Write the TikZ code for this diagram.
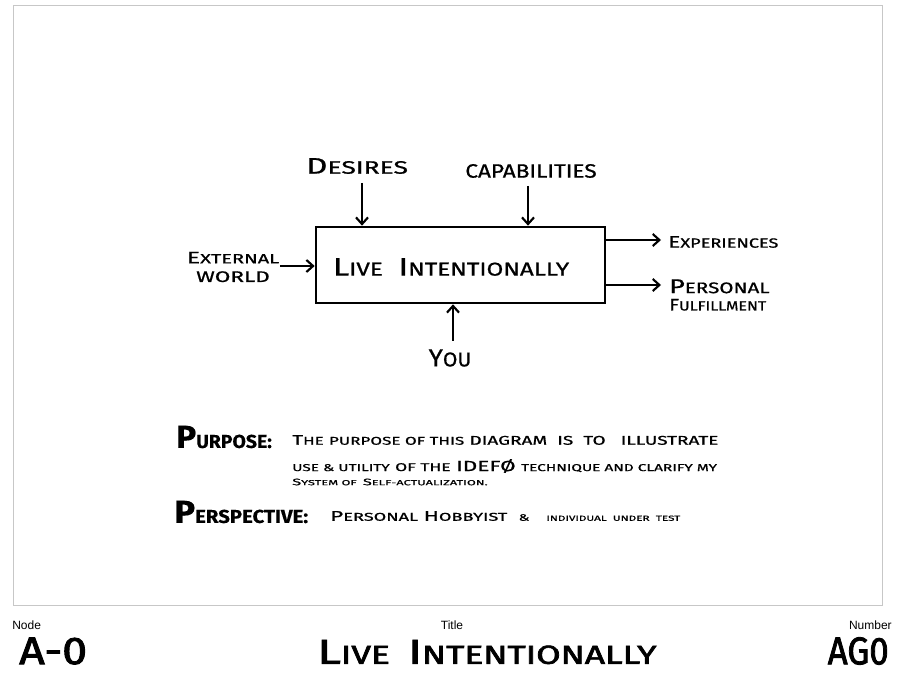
\documentclass[tikz,border=0pt]{standalone}
\usepackage{fontspec}
\usepackage{graphicx}
\setmainfont{Fira Sans}[FakeBold=0.7,BoldFeatures={FakeBold=0.3}]
\newfontfamily\heavyfont{Fira Sans}[FakeBold=2.2]
\newfontfamily\labelfont{Liberation Sans}
\usetikzlibrary{arrows.meta}
\newcommand\cw[4]{{\fontsize{#1}{#1}\selectfont #3}{\fontsize{#2}{#2}\selectfont #4}}
\newcommand\fs[2]{{\fontsize{#1}{#1}\selectfont #2}}
\newcommand\hs[2]{\scalebox{#1}[1]{#2}}
\tikzset{
  arr/.style={line width=1.6pt,-{Straight Barb[length=5pt,width=9pt,line width=1.6pt]}},
  txt/.style={inner sep=0pt,font=\mdseries},
  foot/.style={inner sep=0pt,font=\heavyfont},
  small/.style={inner sep=0pt,font=\labelfont\fontsize{9}{9}\selectfont}
}
\begin{document}
\begin{tikzpicture}[x=0.75pt,y=-0.75pt]
\useasboundingbox (0,0) rectangle (900,673);
\fill[white] (0,0) rectangle (900,673);
\draw[color=black!22,line width=0.7pt] (13,5) rectangle (882,605);
% main box
\node[draw,line width=2pt,minimum width=216.75pt,minimum height=57pt,inner sep=0pt] (box) at (460.5,265) {};
\node[txt] (boxt) at (451,267) {\hs{1.3}{\cw{19}{14}{L}{IVE}\hspace{9pt}\cw{19}{14}{I}{NTENTIONALLY}}};
% inputs
\node[txt] (desires) at (357,166) {\hs{1.47}{\cw{17}{13.5}{D}{ESIRES}}};
\node[txt] (capab) at (531,171) {\hs{1.17}{\fs{14.5}{CAPABILITIES}}};
\node[txt,align=center] (extw) at (233,267) {\hs{1.5}{\cw{12.5}{10}{E}{XTERNAL}}\\[2pt]\hs{1.47}{\fs{11.5}{WORLD}}};
\node[txt] (you) at (450,358) {\hs{1.05}{\cw{18.5}{15}{Y}{OU}}};
\node[txt,anchor=west] (exper) at (668,242) {\hs{1.36}{\cw{12.5}{10}{E}{XPERIENCES}}};
\node[txt,anchor=west,align=left] (pers) at (669,295) {\hs{1.34}{\cw{15}{11.5}{P}{ERSONAL}}\\[1pt]\hs{1.2}{\cw{12.5}{10}{F}{ULFILLMENT}}};
\coordinate (d1) at (362,183);
\coordinate (c1) at (528,186);
\coordinate (y1) at (453,341);
\coordinate (e1) at (280,266);
\coordinate (o1) at (661,240);
\coordinate (o2) at (661,285);
\draw[arr] (d1) -- (d1 |- box.north);
\draw[arr] (c1) -- (c1 |- box.north);
\draw[arr] (y1) -- (y1 |- box.south);
\draw[arr] (e1) -- (e1 -| box.west);
\draw[arr] (o1 -| box.east) -- (o1);
\draw[arr] (o2 -| box.east) -- (o2);
% purpose
\node[txt,anchor=west] (purp) at (176,437) {\bfseries\hs{1.04}{\cw{24}{14}{P}{URPOSE:}}};
\node[txt,anchor=west] (pl1) at (292,440) {\hs{1.5}{\cw{10.5}{8.5}{T}{HE} \fs{8.5}{PURPOSE OF THIS} \fs{9.5}{DIAGRAM\ \ IS\ \ TO\ \ \ ILLUSTRATE}}};
\node[txt,anchor=west] (pl2) at (292,466) {\hs{1.54}{\fs{7.5}{USE \& UTILITY} \fs{8.5}{OF THE} \fs{11}{IDEF\O} \fs{7.5}{TECHNIQUE AND CLARIFY MY}}};
\node[txt,anchor=west] (pl3) at (292,482) {\hs{1.75}{\cw{7}{5.5}{S}{YSTEM OF} \cw{7}{5.5}{S}{ELF-ACTUALIZATION.}}};
\node[txt,anchor=west] (persp) at (174,512) {\bfseries\hs{1.09}{\cw{24}{14}{P}{ERSPECTIVE:}}};
\node[txt,anchor=west] (ps1) at (330,516) {\hs{1.6}{\cw{10.5}{8.5}{P}{ERSONAL} \cw{10.5}{8.5}{H}{OBBYIST}\ \ \fs{7}{\&}\ \ \ \fs{5.5}{INDIVIDUAL\ \ UNDER\ \ TEST}}};
% footer
\node[small,anchor=west] (nodel) at (12,625) {Node};
\node[small] (titlel) at (452,625) {Title};
\node[small,anchor=east] (numl) at (892,625) {Number};
\node[foot,anchor=west] (nodev) at (19,651) {\hs{1.15}{\fs{29}{A-0}}};
\node[foot] (titlev) at (487,652) {\hs{1.36}{\cw{26}{19.5}{L}{IVE}\hspace{10pt}\cw{26}{19.5}{I}{NTENTIONALLY}}};
\node[foot,anchor=east] (numv) at (889,651) {\hs{0.9}{\fs{29}{AG0}}};
\end{tikzpicture}
\end{document}
